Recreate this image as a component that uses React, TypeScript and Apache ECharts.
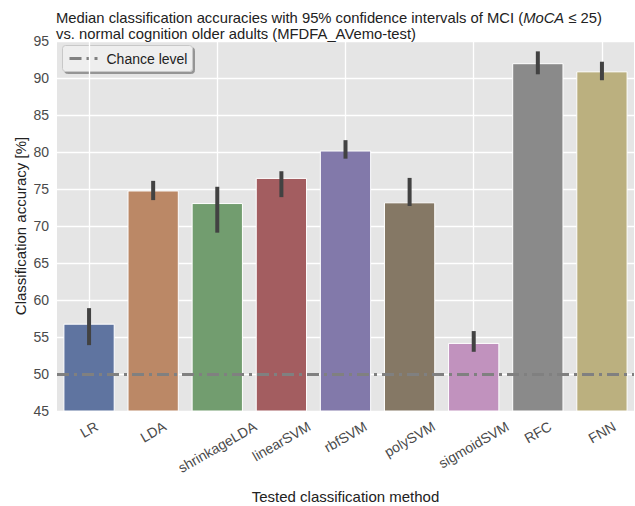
import React, { useEffect, useRef } from "react";
import * as echarts from "echarts";

const categories = ["LR", "LDA", "shrinkageLDA", "linearSVM", "rbfSVM", "polySVM", "sigmoidSVM", "RFC", "FNN"];
const medians = [56.8, 74.8, 73.1, 76.5, 80.2, 73.2, 54.2, 92.0, 90.9];
const ciLow = [53.9, 73.5, 69.1, 73.9, 79.1, 72.7, 53.0, 90.5, 89.7];
const ciHigh = [58.9, 76.1, 75.3, 77.4, 81.6, 76.5, 55.8, 93.6, 92.2];
const barColors = ["#5f74a0", "#bb8866", "#729d6f", "#a35d60", "#8279aa", "#857865", "#c192be", "#8a8a8a", "#bbb07f"];
const chanceLevel = 50;
const yTicks = { min: 45, max: 95, step: 5 };

const FONT = "'Liberation Sans', Arial, sans-serif";
const TICK_SIZE = 14;

function measure(text: string, size: number): number {
  const c = document.createElement("canvas");
  const ctx = c.getContext("2d");
  if (!ctx) return text.length * size * 0.55;
  ctx.font = `${size}px ${FONT}`;
  return ctx.measureText(text).width;
}

export default function App() {
  const ref = useRef<HTMLDivElement>(null);
  useEffect(() => {
    if (!ref.current) return;
    const chart = echarts.init(ref.current, undefined, { renderer: "svg" });
    const legendGraphic = {
      type: "group",
      id: "legend",
      left: 62,
      top: 45,
      z: 100,
      children: [
        {
          type: "rect",
          shape: { x: 0, y: 0, width: 130, height: 26, r: 3 },
          style: { fill: "#eeeeee", stroke: "#c8c8c8", lineWidth: 1, shadowBlur: 0, shadowOffsetX: 2, shadowOffsetY: 2, shadowColor: "rgba(0,0,0,0.35)" },
        },
        {
          type: "line",
          shape: { x1: 7, y1: 13, x2: 35, y2: 13 },
          style: { stroke: "#808080", lineWidth: 3, lineDash: [12, 5, 3, 5] },
        },
        {
          type: "text",
          x: 44,
          y: 13,
          style: { text: "Chance level", fontFamily: FONT, fontSize: 14, fill: "#222222", textVerticalAlign: "middle" },
        },
      ],
    };
    const option: any = {
      animation: false,
      backgroundColor: "#ffffff",
      textStyle: { fontFamily: FONT },
      title: {
        left: 51,
        top: 5,
        text: "Median classification accuracies with 95% confidence intervals of MCI ({i|MoCA} ≤ 25)\nvs. normal cognition older adults (MFDFA_AVemo-test)",
        textStyle: {
          fontFamily: FONT,
          fontSize: 14.8,
          fontWeight: "normal",
          color: "#222222",
          lineHeight: 16,
          rich: {
            i: { fontFamily: FONT, fontSize: 14.8, fontStyle: "italic", color: "#222222", lineHeight: 16 },
          },
        },
      },
      grid: {
        left: 57,
        right: 1,
        top: 41,
        bottom: 95,
        containLabel: false,
        outerBoundsMode: "none",
        show: true,
        backgroundColor: "#e5e5e5",
        borderWidth: 0,
      },
      xAxis: {
        type: "category",
        data: categories,
        name: "Tested classification method",
        nameLocation: "middle",
        nameGap: 78,
        nameMoveOverlap: false,
        nameTextStyle: { fontFamily: FONT, fontSize: 15, color: "#222222" },
        axisLine: { show: false },
        axisTick: { show: false, alignWithLabel: true },
        axisLabel: { show: false },
        splitLine: { show: true, alignWithLabel: true, lineStyle: { color: "#ffffff", width: 1.3 } },
      },
      yAxis: {
        type: "value",
        min: yTicks.min,
        max: yTicks.max,
        interval: yTicks.step,
        name: "Classification accuracy [%]",
        nameLocation: "middle",
        nameGap: 29,
        nameMoveOverlap: false,
        nameTextStyle: { fontFamily: FONT, fontSize: 15, color: "#222222" },
        axisLine: { show: false },
        axisTick: { show: false },
        axisLabel: { fontFamily: FONT, fontSize: TICK_SIZE, color: "#4a4a4a", margin: 8 },
        splitLine: { show: true, lineStyle: { color: "#ffffff", width: 1.3 } },
      },
      series: [
        {
          type: "bar",
          barWidth: "80%",
          z: 2,
          data: medians.map((v, i) => ({
            value: v,
            itemStyle: { color: barColors[i], borderColor: "#ffffff", borderWidth: 1 },
          })),
          markLine: {
            silent: true,
            symbol: "none",
            label: { show: false },
            lineStyle: { color: "#808080", width: 3, type: [12, 5, 3, 5] },
            data: [{ yAxis: chanceLevel }],
            z: 5,
          },
        },
        {
          type: "custom",
          z: 4,
          data: categories.map((_, i) => [i, ciLow[i], ciHigh[i]]),
          renderItem: (params: any, api: any) => {
            const lo = api.coord([api.value(0), api.value(1)]);
            const hi = api.coord([api.value(0), api.value(2)]);
            return {
              type: "line",
              shape: { x1: lo[0], y1: lo[1], x2: hi[0], y2: hi[1] },
              style: { stroke: "#424242", lineWidth: 4, lineCap: "butt" },
            };
          },
        },
      ],
      graphic: [legendGraphic],
    };
    chart.setOption(option);

    // x tick labels, matplotlib-style: rotated 30°, centred horizontally on the tick, bbox top below axis
    const axisBottom = chart.convertToPixel({ yAxisIndex: 0 }, yTicks.min) as number;
    const ang = Math.PI / 6;
    const labelGraphics = categories.map((c, i) => {
      const x = chart.convertToPixel({ xAxisIndex: 0 }, c) as number;
      const w = measure(c, TICK_SIZE);
      const h = TICK_SIZE * 1.0;
      const bboxH = w * Math.sin(ang) + h * Math.cos(ang);
      return {
        type: "text",
        id: "xl" + i,
        x,
        y: axisBottom + 8 + bboxH / 2,
        rotation: ang,
        style: {
          text: c,
          fontFamily: FONT,
          fontSize: TICK_SIZE,
          fill: "#4a4a4a",
          align: "center",
          verticalAlign: "middle",
        },
      };
    });
    chart.setOption({ graphic: [legendGraphic, ...labelGraphics] });
    return () => chart.dispose();
  }, []);
  return <div ref={ref} style={{ width: 635, height: 506, position: "absolute", left: 0, top: 0 }} />;
}
